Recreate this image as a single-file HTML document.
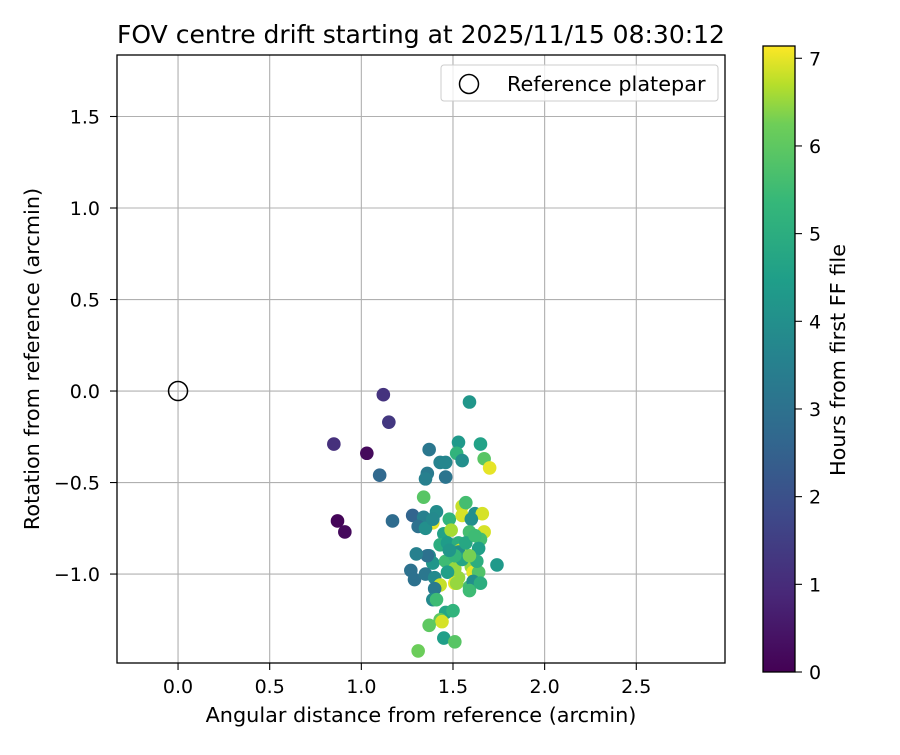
<!DOCTYPE html>
<html><head><meta charset="utf-8"><style>
body{margin:0;background:#fff;}
svg text{font-family:"DejaVu Sans","Liberation Sans",sans-serif;fill:#000;}
</style></head><body>
<svg id="chart" width="900" height="750" viewBox="0 0 900 750" xmlns="http://www.w3.org/2000/svg">
<defs>
<linearGradient id="vir" x1="0" y1="1" x2="0" y2="0">
<stop offset="0" stop-color="#440154"/><stop offset="0.125" stop-color="#482878"/>
<stop offset="0.25" stop-color="#3e4989"/><stop offset="0.375" stop-color="#31688e"/>
<stop offset="0.5" stop-color="#26828e"/><stop offset="0.625" stop-color="#1f9e89"/>
<stop offset="0.75" stop-color="#35b779"/><stop offset="0.875" stop-color="#6ece58"/>
<stop offset="0.9375" stop-color="#b5de2b"/><stop offset="1" stop-color="#fde725"/>
</linearGradient>
<clipPath id="clip"><rect x="117" y="55" width="608" height="608"/></clipPath>
</defs>
<g id="grid"></g>
<g id="points" clip-path="url(#clip)"></g>
<circle id="refpt" r="9.5" fill="none" stroke="#000" stroke-width="1.5"/>
<rect x="117" y="55" width="608" height="608" fill="none" stroke="#000" stroke-width="1.3"/>
<g id="ticks"></g>
<text x="421" y="43" font-size="25" text-anchor="middle">FOV centre drift starting at 2025/11/15 08:30:12</text>
<text x="421" y="722" font-size="20.8" text-anchor="middle">Angular distance from reference (arcmin)</text>
<text transform="translate(39,359) rotate(-90)" font-size="20.8" text-anchor="middle">Rotation from reference (arcmin)</text>
<g>
<rect x="441" y="65" width="277" height="36" rx="3" fill="#fff" fill-opacity="0.8" stroke="#ccc"/>
<circle cx="469" cy="84" r="9.5" fill="none" stroke="#000" stroke-width="1.5"/>
<text x="507" y="91" font-size="20.8">Reference platepar</text>
</g>
<g>
<rect x="763" y="46" width="32" height="626" fill="url(#vir)" stroke="#000" stroke-width="1.3"/>
<g id="cbticks"></g>
<text transform="translate(845,360) rotate(-90)" font-size="20.8" text-anchor="middle">Hours from first FF file</text>
</g>
</svg>
<script>
const xVals=[1.12,1.15,0.85,1.03,1.10,0.87,0.91,1.17,1.59,1.53,1.52,1.55,1.43,1.46,1.37,1.36,1.35,1.46,1.65,1.67,1.70,1.34,1.28,1.41,1.39,1.34,1.48,1.55,1.55,1.62,1.66,1.57,1.60,1.67,1.65,1.59,1.64,1.45,1.43,1.49,1.47,1.53,1.54,1.37,1.39,1.46,1.51,1.53,1.60,1.61,1.64,1.53,1.27,1.29,1.35,1.40,1.47,1.51,1.43,1.52,1.59,1.61,1.40,1.39,1.41,1.46,1.50,1.43,1.44,1.37,1.45,1.51,1.31,1.59,1.65,1.63,1.55,1.74,1.36,1.30,1.31,1.35,1.51,1.48,1.59,1.57,1.62,1.39];
const yVals=[-0.02,-0.17,-0.29,-0.34,-0.46,-0.71,-0.77,-0.71,-0.06,-0.28,-0.34,-0.38,-0.39,-0.39,-0.32,-0.45,-0.48,-0.47,-0.29,-0.37,-0.42,-0.58,-0.68,-0.66,-0.72,-0.69,-0.70,-0.63,-0.68,-0.67,-0.67,-0.61,-0.70,-0.77,-0.81,-0.77,-0.86,-0.78,-0.84,-0.76,-0.83,-0.83,-0.87,-0.90,-0.94,-0.93,-0.97,-1.02,-0.96,-0.99,-0.99,-0.88,-0.98,-1.03,-1.00,-1.02,-0.99,-1.05,-1.06,-1.05,-1.07,-1.04,-1.08,-1.14,-1.14,-1.21,-1.20,-1.25,-1.26,-1.28,-1.35,-1.37,-1.42,-1.09,-1.05,-0.93,-0.92,-0.95,-0.90,-0.89,-0.74,-0.75,-0.90,-0.87,-0.90,-0.83,-0.79,-0.70];
const hours=[1.2,1.3,1.1,0.2,2.7,0.1,0.2,2.8,4.2,4.3,5.2,4.0,3.6,3.7,3.2,3.3,3.5,3.1,4.6,5.9,7.0,5.9,2.6,3.9,7.0,3.5,5.2,6.8,6.9,4.0,6.9,5.6,4.0,6.9,5.6,5.6,4.5,4.6,5.0,6.6,4.4,5.0,6.9,3.8,4.2,5.5,6.5,6.5,6.5,7.0,5.8,4.0,3.0,3.0,3.2,3.8,4.5,7.0,6.8,6.5,5.6,4.0,3.3,3.8,5.5,4.7,5.2,6.0,6.9,6.0,4.5,5.9,6.2,5.5,5.0,5.0,4.7,4.3,3.0,3.5,3.0,4.0,5.3,4.2,6.3,4.8,5.5,3.8];
const xTicks=[0,0.5,1,1.5,2,2.5];
const xTickLabels=["0.0","0.5","1.0","1.5","2.0","2.5"];
const yTicks=[1.5,1,0.5,0,-0.5,-1];
const yTickLabels=["1.5","1.0","0.5","0.0","\u22120.5","\u22121.0"];
const cbTicks=[0,1,2,3,4,5,6,7];
const xMin=-0.333,xMax=2.984,yMin=-1.486,yMax=1.836,hMax=7.14;
const NS="http://www.w3.org/2000/svg";
const X=v=>117+(v-xMin)/(xMax-xMin)*608;
const Y=v=>663-(v-yMin)/(yMax-yMin)*608;
const CB=v=>672-v/hMax*626;
const stops=[[0,"#440154"],[0.125,"#482878"],[0.25,"#3e4989"],[0.375,"#31688e"],[0.5,"#26828e"],[0.625,"#1f9e89"],[0.75,"#35b779"],[0.875,"#6ece58"],[0.9375,"#b5de2b"],[1,"#fde725"]];
function hx(c){return [1,3,5].map(i=>parseInt(c.substr(i,2),16));}
function vir(t){t=Math.max(0,Math.min(1,t));for(let i=1;i<stops.length;i++){if(t<=stops[i][0]){const a=stops[i-1],b=stops[i];const f=(t-a[0])/(b[0]-a[0]);const ca=hx(a[1]),cb=hx(b[1]);return "rgb("+ca.map((v,k)=>Math.round(v+(cb[k]-v)*f)).join(",")+")";}}return stops[stops.length-1][1];}
function mk(tag,attrs,parent){const e=document.createElementNS(NS,tag);for(const k in attrs)e.setAttribute(k,attrs[k]);parent.appendChild(e);return e;}
const grid=document.getElementById('grid'),ticks=document.getElementById('ticks'),pts=document.getElementById('points'),cbt=document.getElementById('cbticks');
xTicks.forEach((v,i)=>{
 const g=mk('line',{x1:X(v),x2:X(v),y1:55,y2:663,stroke:'#b0b0b0','stroke-width':1.1},grid);
 
 
 mk('line',{x1:X(v),x2:X(v),y1:663,y2:670,stroke:'#000','stroke-width':1.1},ticks);
 const t=mk('text',{x:X(v),y:693,'font-size':19,'text-anchor':'middle'},ticks);
 
 
 t.textContent=xTickLabels[i];
});
yTicks.forEach((v,i)=>{
 const g=mk('line',{x1:117,x2:725,y1:Y(v),y2:Y(v),stroke:'#b0b0b0','stroke-width':1.1},grid);
 
 
 mk('line',{x1:110,x2:117,y1:Y(v),y2:Y(v),stroke:'#000','stroke-width':1.1},ticks);
 const t=mk('text',{x:100,y:Y(v)+7,'font-size':19,'text-anchor':'end'},ticks);
 
 
 t.textContent=yTickLabels[i];
});
xVals.forEach((xv,i)=>{
 const c=mk('circle',{cx:X(xv),cy:Y(yVals[i]),r:6.8,fill:vir(hours[i]/hMax)},pts);
 
 
});
cbTicks.forEach(v=>{
 mk('line',{x1:795,x2:802,y1:CB(v),y2:CB(v),stroke:'#000','stroke-width':1.1},cbt);
 const t=mk('text',{x:809,y:CB(v)+7,'font-size':19},cbt);
 
 
 t.textContent=String(v);
});
const r=document.getElementById('refpt');r.setAttribute('cx',X(0));r.setAttribute('cy',Y(0));
</script>
</body></html>
